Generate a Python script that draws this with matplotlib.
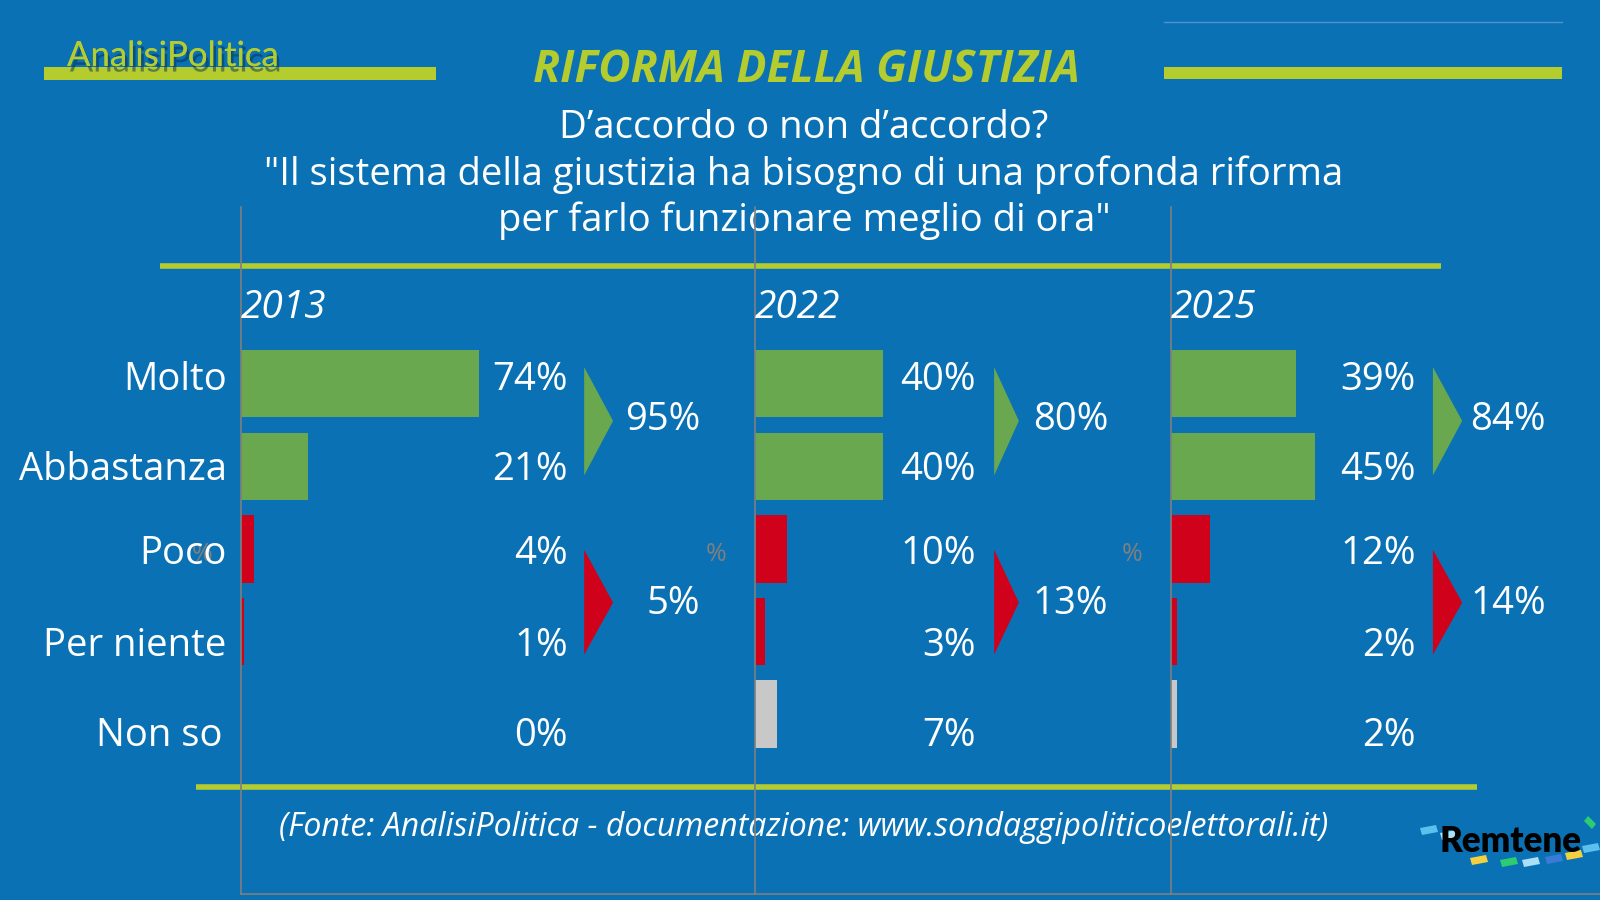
import matplotlib
matplotlib.use("Agg")
import matplotlib.pyplot as plt
from matplotlib.patches import Polygon
import matplotlib.patheffects as pe

# colours
BG = '#0A71B4'
LIME = '#B5CC2E'
GREEN = '#6AA84F'
RED = '#D0021B'
GREY_BAR = '#C8C8C8'
SPINE = '#7F7F7F'

plt.rcParams['font.family'] = ['Open Sans', 'DejaVu Sans']

# data
years = ['2013', '2022', '2025']
categories = ['Molto', 'Abbastanza', 'Poco', 'Per niente', 'Non so']
values_2013 = [74, 21, 4, 1, 0]
values_2022 = [40, 40, 10, 3, 7]
values_2025 = [39, 45, 12, 2, 2]
totale_accordo = [95, 80, 84]
totale_disaccordo = [5, 13, 14]
values = [values_2013, values_2022, values_2025]
bar_colors = [GREEN, GREEN, RED, RED, GREY_BAR]

W, H = 1600, 900
PX_PER_PCT = 3.21
ROW = 82.6

fig = plt.figure(figsize=(16, 9), dpi=100, facecolor=BG)

# background axes in pixel coordinates for decorations
bg = fig.add_axes([0, 0, 1, 1])
bg.set_xlim(0, W)
bg.set_ylim(H, 0)
bg.set_facecolor(BG)
bg.axis('off')

# header bars
bg.fill_between([44, 436], 67, 80, color=LIME, lw=0)
bg.fill_between([1164, 1562], 67, 79, color=LIME, lw=0)
bg.plot([1164, 1562], [21.5, 21.5], color='#4F93C9', lw=1)
bg.text(67, 56, 'AnalisiPolitica', color=LIME, fontsize=25, family='Lato',
        ha='left', va='center',
        path_effects=[pe.withSimplePatchShadow(offset=(2, -4), shadow_rgbFace='#06304F', alpha=0.5),
                      pe.Normal()])

# titles
bg.text(806, 71, 'RIFORMA DELLA GIUSTIZIA', color=LIME, fontsize=32,
        fontweight='bold', style='italic', ha='center', va='center')
subtitle = ['D\u2019accordo o non d\u2019accordo?',
            '"Il sistema della giustizia ha bisogno di una profonda riforma',
            'per farlo funzionare meglio di ora"']
for i, line in enumerate(subtitle):
    bg.text(804, 128.5 + i * 46, line, color='white', fontsize=27.5,
            ha='center', va='center')

# separator lines
bg.plot([160, 1441], [266, 266], color=LIME, lw=4, solid_capstyle='butt')
bg.plot([196, 1477], [787, 787], color=LIME, lw=4, solid_capstyle='butt')

bg.text(804, 827, '(Fonte: AnalisiPolitica - documentazione: www.sondaggipoliticoelettorali.it)',
        color='white', fontsize=23, style='italic', ha='center', va='center')

# Remtene logo
stripes = [('#5BC0EB', 1420, 828), ('#A9DFF7', 1440, 833), ('#F4D03F', 1470, 858),
           ('#2ECC71', 1500, 860), ('#A9DFF7', 1522, 860), ('#3A7BD5', 1545, 857),
           ('#F4D03F', 1565, 853), ('#5BC0EB', 1582, 846)]
for col, sx, sy in stripes:
    bg.add_patch(Polygon([[sx, sy], [sx + 16, sy - 3], [sx + 18, sy + 4], [sx + 2, sy + 7]],
                         closed=True, color=col, lw=0))
bg.add_patch(Polygon([[1588, 816], [1596, 824], [1592, 829], [1584, 821]], color='#2ECC71', lw=0))
bg.text(1511, 842, 'Remtene', color='black', fontsize=25, fontweight='heavy',
        family='Lato', ha='center', va='center')

# panels
panel_left = [241, 755, 1171]
panel_right = [755, 1171, 1600]
label_x = [101.9, 68.8, 76.3]
label_y = [-0.04, 1.04, 2.06, 3.17, 4.26]
arrow_x = [(106.9, 115.9), (74.5, 82.2), (81.6, 90.7)]
sum_x = [143.0, 110.0, 116.8]
top_px, bottom_px = 207, 894
rows_above = (383.7 - top_px) / ROW
rows_total = (bottom_px - top_px) / ROW

for k in range(3):
    left = panel_left[k]
    width = panel_right[k] - left
    ax = fig.add_axes([left / W, (H - bottom_px) / H, width / W, (bottom_px - top_px) / H])
    ax.set_facecolor('none')
    ax.set_xlim(0, width / PX_PER_PCT)
    ax.set_ylim(rows_total - rows_above, -rows_above)
    for s in ['top', 'right']:
        ax.spines[s].set_visible(False)
    ax.spines['left'].set_color(SPINE)
    ax.spines['bottom'].set_color(SPINE)
    ax.spines['left'].set_linewidth(1.2)
    ax.spines['bottom'].set_linewidth(1.2)
    ax.set_xticks([])
    ax.set_yticks([])

    rows = list(range(len(categories)))
    ax.barh(rows, values[k], height=0.815, color=bar_colors, lw=0)

    for ly, v in zip(label_y, values[k]):
        ax.text(label_x[k], ly, f'{v}%', color='white', fontsize=27.5,
                ha='right', va='center')

    ax.text(0, -0.92, years[k], color='white', fontsize=28, style='italic',
            ha='left', va='center')
    ax.text(-12.1, 2.07, '%', color=SPINE, fontsize=18, ha='center', va='center')

    x0, x1 = arrow_x[k]
    ax.add_patch(Polygon([[x0, -0.2], [x1, 0.45], [x0, 1.11]], closed=True,
                         color=GREEN, lw=0))
    ax.add_patch(Polygon([[x0, 2.01], [x1, 2.65], [x0, 3.28]], closed=True,
                         color=RED, lw=0))
    ax.text(sum_x[k], 0.44, f'{totale_accordo[k]}%', color='white', fontsize=27.5,
            ha='right', va='center')
    ax.text(sum_x[k], 2.67, f'{totale_disaccordo[k]}%', color='white', fontsize=27.5,
            ha='right', va='center')

    if k == 0:
        for ly, c in zip(label_y, categories):
            xoff = -5.7 if c == 'Non so' else -4.5
            ax.text(xoff, ly, c, color='white', fontsize=27.5,
                    ha='right', va='center')

fig.savefig('out.png', dpi=100, facecolor=BG)
